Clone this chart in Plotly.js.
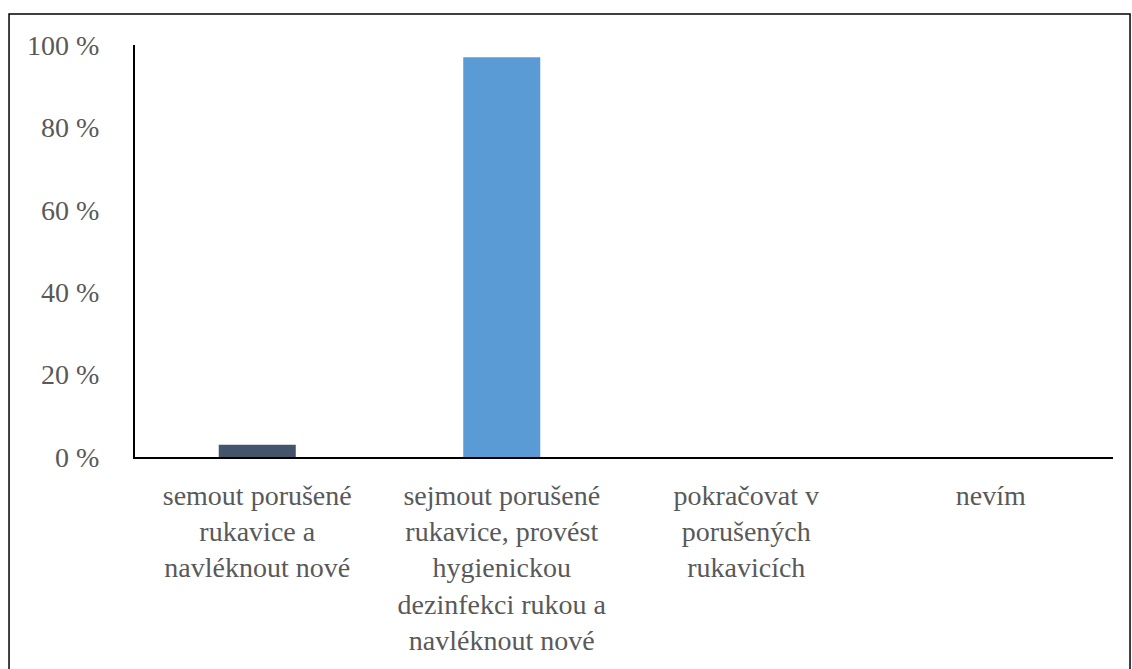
<!DOCTYPE html>
<html>
<head>
<meta charset="utf-8">
<script src="https://cdn.plot.ly/plotly-3.0.1.min.js"></script>
<style>
html,body{margin:0;padding:0;background:#fff;}
#chart{width:1132px;height:669px;}
</style>
</head>
<body>
<div id="chart"></div>
<script>
const categories = [
  "semout porušené<br>rukavice a<br>navléknout nové",
  "sejmout porušené<br>rukavice, provést<br>hygienickou<br>dezinfekci rukou a<br>navléknout nové",
  "pokračovat v<br>porušených<br>rukavicích",
  "nevím"
];
const values = [3, 97, 0, 0];
const barColors = ["#44546A", "#5B9BD5", "#A5A5A5", "#4472C4"];
const tickValues = [0, 20, 40, 60, 80, 100];

const FONT = "Liberation Serif, DejaVu Serif, serif";

const trace = {
  type: "bar",
  x: categories,
  y: values,
  marker: {color: barColors},
  hoverinfo: "none"
};

const layout = {
  width: 1132,
  height: 669,
  margin: {l: 135, r: 19, t: 45, b: 212, pad: 0},
  paper_bgcolor: "#ffffff",
  plot_bgcolor: "#ffffff",
  bargap: 0.685,
  showlegend: false,
  font: {family: FONT, color: "#595959", size: 28},
  xaxis: {
    showgrid: false,
    zeroline: false,
    showline: true,
    linecolor: "#000000",
    linewidth: 2,
    ticks: "",
    tickfont: {family: FONT, size: 28, color: "#595959"},
    ticklabelstandoff: 12
  },
  yaxis: {
    range: [0, 100],
    tickvals: tickValues,
    ticktext: tickValues.map(v => v + " %"),
    showgrid: false,
    zeroline: false,
    showline: true,
    linecolor: "#000000",
    linewidth: 2,
    ticks: "",
    tickfont: {family: FONT, size: 28, color: "#595959"},
    ticklabelstandoff: 28
  },
  shapes: [{
    type: "rect",
    xref: "paper", yref: "paper",
    x0: -0.1288, x1: 1.0174, y0: -0.7, y1: 1.0752,
    line: {color: "#000000", width: 1.5},
    fillcolor: "rgba(0,0,0,0)",
    layer: "below"
  }]
};

Plotly.newPlot("chart", [trace], layout, {staticPlot: true, displayModeBar: false}).then(function () {
  document.querySelectorAll("#chart text").forEach(function (t) {
    t.style.fontFamily = FONT;
  });
});
</script>
</body>
</html>
